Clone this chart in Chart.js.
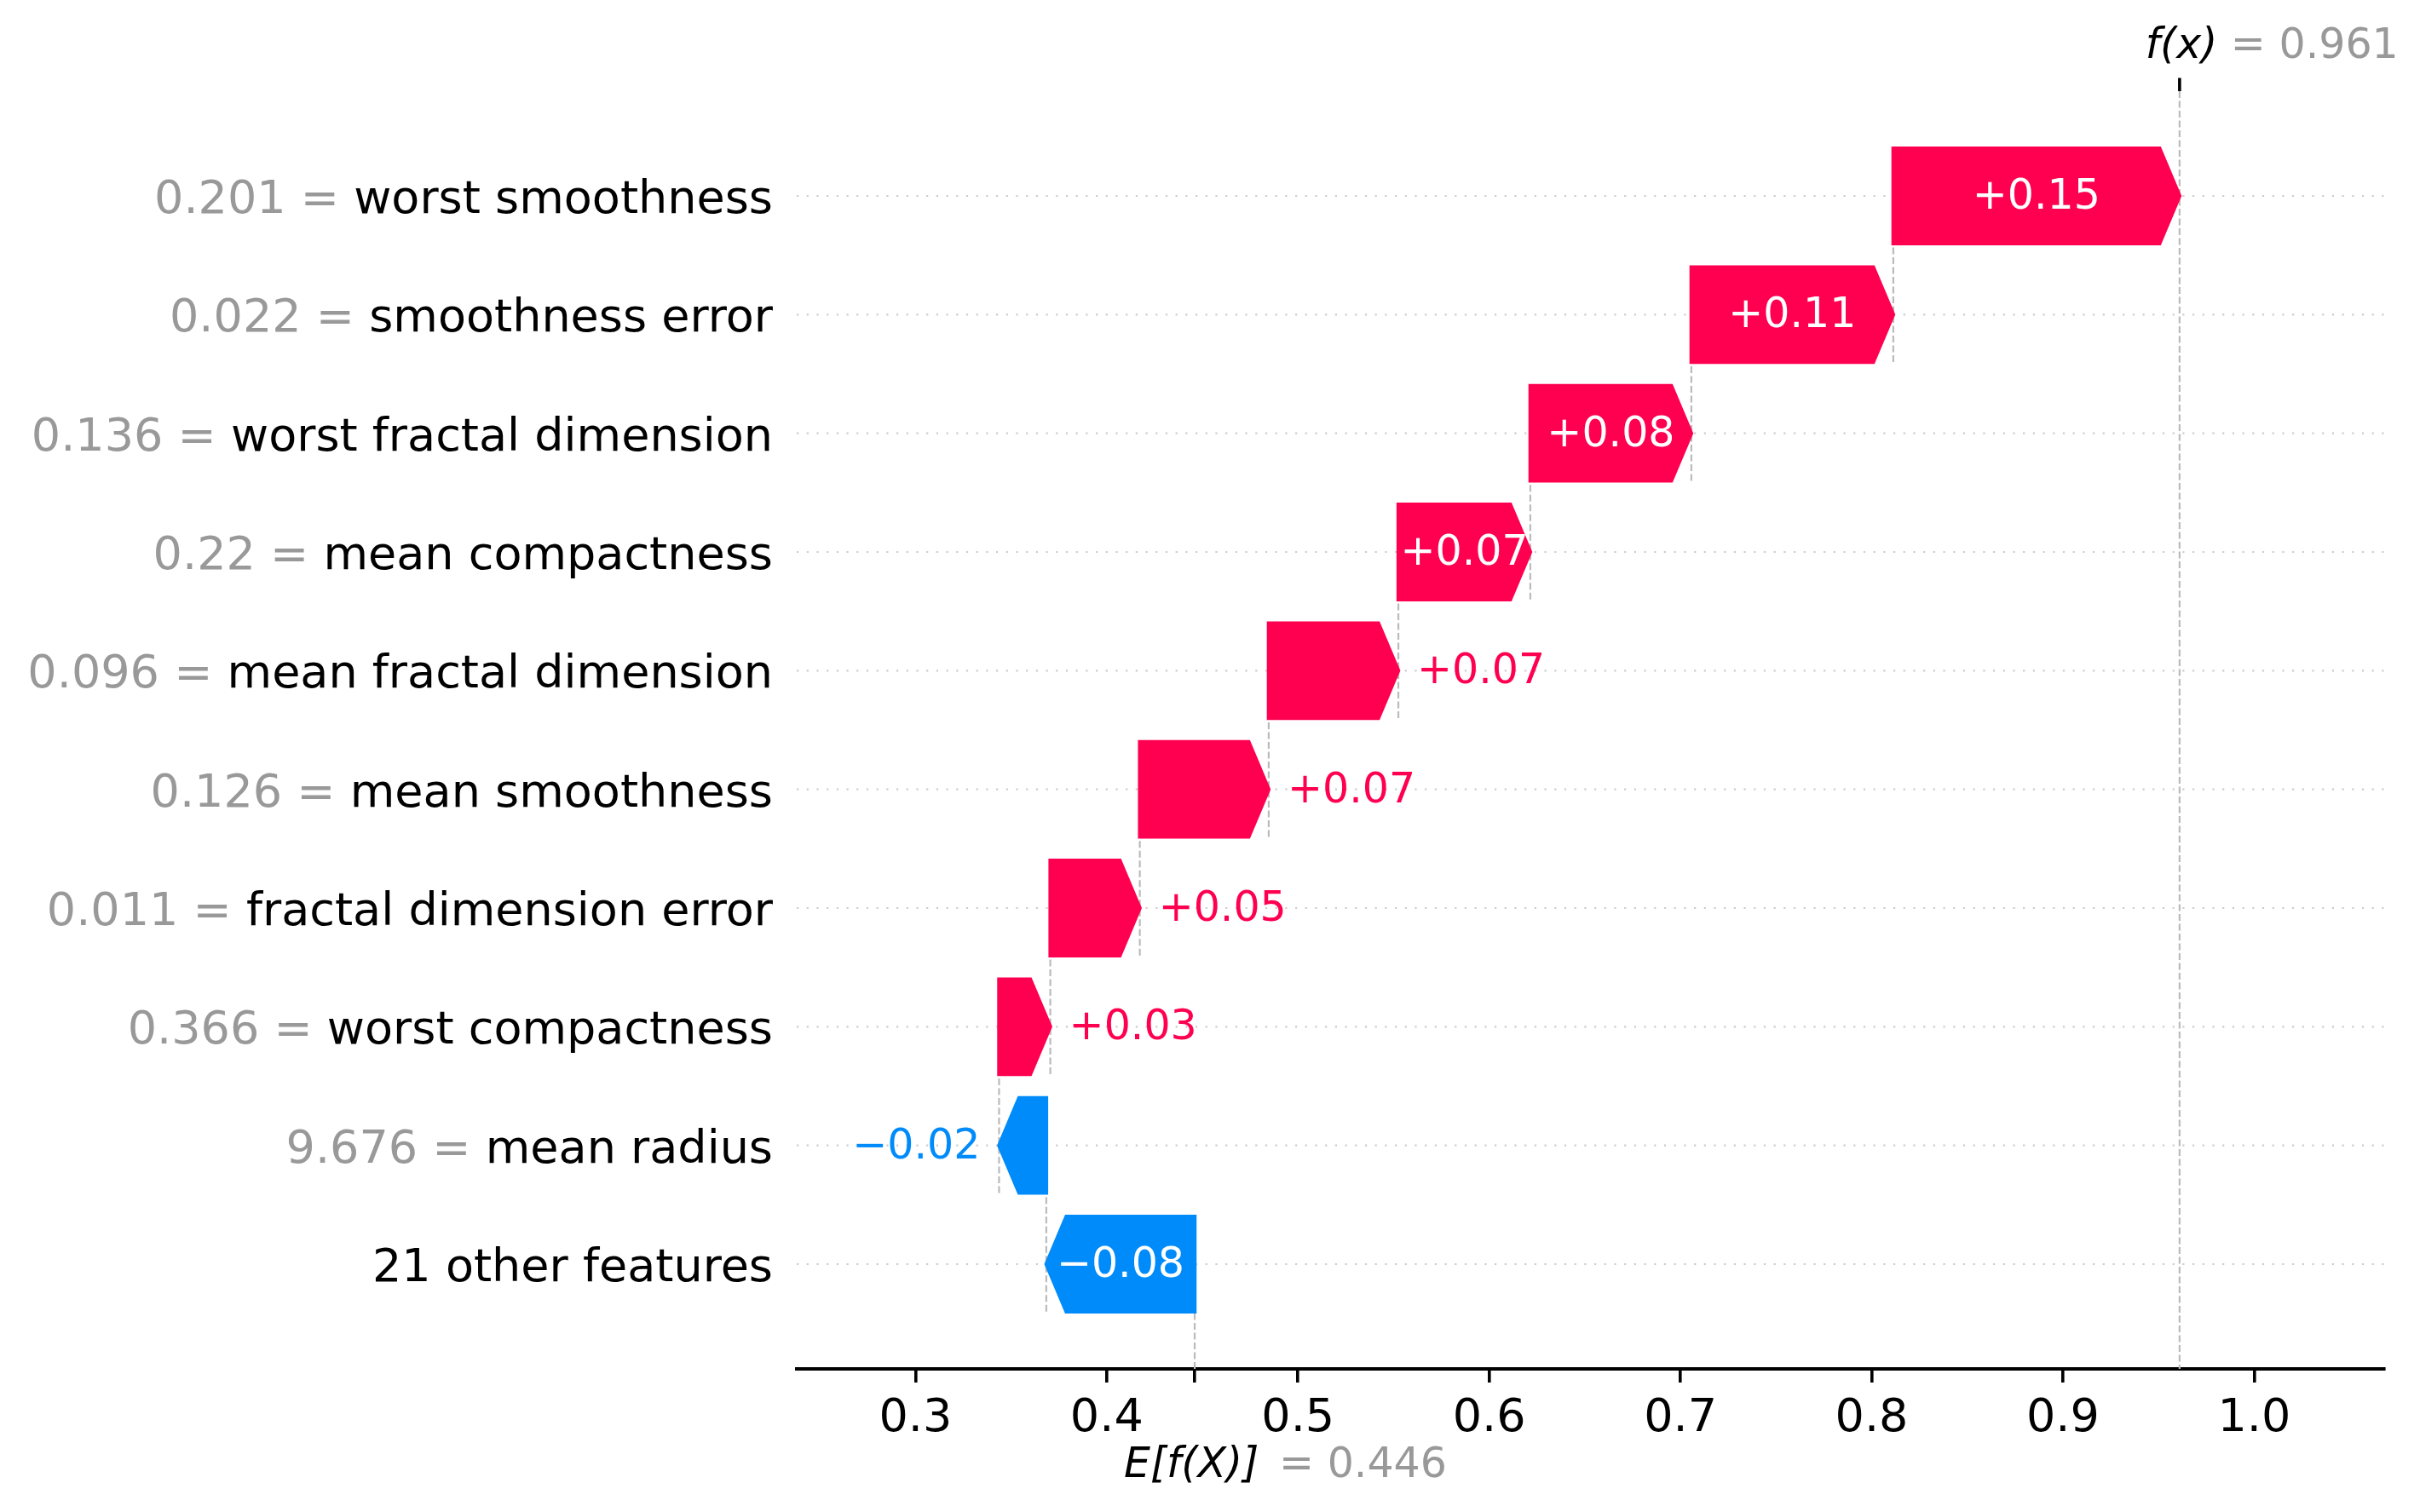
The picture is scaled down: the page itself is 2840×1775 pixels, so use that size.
<!DOCTYPE html>
<html>
<head>
<meta charset="utf-8">
<script src="https://cdn.jsdelivr.net/npm/chart.js@4.4.1/dist/chart.umd.min.js"></script>
<style>
html,body{margin:0;padding:0;background:#ffffff;}
#wrap{width:2840px;height:1775px;}
</style>
</head>
<body>
<div id="wrap"><canvas id="c" width="2840" height="1775"></canvas></div>
<script>
// ---- data (top row first) ----
const featureNames = ["worst smoothness","smoothness error","worst fractal dimension","mean compactness","mean fractal dimension","mean smoothness","fractal dimension error","worst compactness","mean radius","21 other features"];
const featureValues = ["0.201","0.022","0.136","0.22","0.096","0.126","0.011","0.366","9.676",""];
const shapValues = [0.1497,0.1056,0.0842,0.0690,0.0678,0.0674,0.0468,0.0268,-0.0247,-0.0776];
const baseValue = 0.446;
const xTickValues = [0.3,0.4,0.5,0.6,0.7,0.8,0.9,1.0];
const xRange = [0.2379, 1.0680];
const yRange = [-0.8828, 9.8828];
const barWidth = 0.8;

// ---- derived ----
const n = shapValues.length;
const starts = new Array(n), ends = new Array(n);
let acc = baseValue;
for (let i = n - 1; i >= 0; i--) { starts[i] = acc; acc += shapValues[i]; ends[i] = acc; }
const fxValue = acc;

const RED = '#ff0051', BLUE = '#008bfb', GRAY = '#999999';
const FONT = '"DejaVu Sans", sans-serif';

Chart.defaults.font.family = FONT;

const fmtShap = v => (v >= 0 ? '+' : '\u2212') + Math.abs(v).toFixed(2);

const waterfallPlugin = {
  id: 'waterfall',
  beforeDatasetsDraw(chart) {
    const {ctx, chartArea, scales} = chart;
    const xs = scales.x, ys = scales.y;
    ctx.save();
    // dotted row lines
    ctx.strokeStyle = '#cccccc';
    ctx.lineWidth = 2.2;
    ctx.setLineDash([2.2, 9.5]);
    for (let i = 0; i < n; i++) {
      const y = ys.getPixelForValue(i);
      ctx.beginPath(); ctx.moveTo(chartArea.left, y); ctx.lineTo(chartArea.right, y); ctx.stroke();
    }
    // dashed connectors
    ctx.strokeStyle = '#bbbbbb';
    ctx.lineWidth = 2.2;
    ctx.setLineDash([8, 3.5]);
    for (let i = 1; i < n; i++) {
      const x = xs.getPixelForValue(ends[i]);
      ctx.beginPath();
      ctx.moveTo(x, ys.getPixelForValue(i + barWidth / 2));
      ctx.lineTo(x, ys.getPixelForValue(i - 1 + barWidth / 2));
      ctx.stroke();
    }
    // f(x) line full height
    const xf = xs.getPixelForValue(fxValue);
    ctx.beginPath(); ctx.moveTo(xf, chartArea.top); ctx.lineTo(xf, chartArea.bottom); ctx.stroke();
    // E[f(X)] line, bottom 1/n of height
    const xe = xs.getPixelForValue(baseValue);
    ctx.beginPath(); ctx.moveTo(xe, chartArea.bottom); ctx.lineTo(xe, chartArea.bottom - (chartArea.bottom - chartArea.top) / n); ctx.stroke();
    ctx.restore();
  },
  afterDatasetsDraw(chart) {
    const {ctx, chartArea, scales} = chart;
    const xs = scales.x, ys = scales.y;
    const HL = 23.5;
    ctx.save();
    ctx.setLineDash([]);
    for (let i = 0; i < n; i++) {
      const s = xs.getPixelForValue(starts[i]);
      const e = xs.getPixelForValue(ends[i]);
      const yc = ys.getPixelForValue(i);
      const h = Math.abs(ys.getPixelForValue(i + barWidth / 2) - yc);
      const pos = shapValues[i] >= 0;
      const dir = pos ? 1 : -1;
      const hl = Math.min(HL, Math.abs(e - s));
      const col = pos ? RED : BLUE;
      ctx.beginPath();
      ctx.moveTo(s, yc - h);
      ctx.lineTo(e - dir * hl, yc - h);
      ctx.lineTo(e, yc);
      ctx.lineTo(e - dir * hl, yc + h);
      ctx.lineTo(s, yc + h);
      ctx.closePath();
      ctx.fillStyle = col; ctx.fill();
      ctx.strokeStyle = col; ctx.lineWidth = 4.4; ctx.lineJoin = 'miter'; ctx.miterLimit = 10; ctx.stroke();

      // bar label
      const txt = fmtShap(shapValues[i]);
      ctx.font = '49px ' + FONT;
      ctx.textBaseline = 'alphabetic';
      const tw = ctx.measureText(txt).width;
      const barW = Math.abs(e - s);
      if (barW > tw + 3.5) {
        ctx.fillStyle = '#ffffff'; ctx.textAlign = 'center';
        ctx.fillText(txt, (s + e) / 2, yc + 15);
      } else {
        ctx.fillStyle = col;
        ctx.textAlign = pos ? 'left' : 'right';
        ctx.fillText(txt, e + dir * 22, yc + 15);
      }
    }

    // y labels
    ctx.font = '54px ' + FONT;
    ctx.textBaseline = 'alphabetic';
    ctx.textAlign = 'right';
    const xr = chartArea.left - 28;
    for (let i = 0; i < n; i++) {
      const y = ys.getPixelForValue(i) + 20;
      ctx.fillStyle = '#000000';
      ctx.fillText(featureNames[i], xr, y);
      if (featureValues[i]) {
        const w = ctx.measureText(featureNames[i]).width;
        ctx.fillStyle = GRAY;
        ctx.fillText(featureValues[i] + ' = ', xr - w, y);
      }
    }

    // top f(x) tick
    const xf = xs.getPixelForValue(fxValue);
    ctx.strokeStyle = '#000000'; ctx.lineWidth = 3.6;
    ctx.beginPath(); ctx.moveTo(xf, chartArea.top); ctx.lineTo(xf, chartArea.top - 15.5); ctx.stroke();

    // f(x) label
    ctx.textAlign = 'left';
    ctx.font = 'italic 49px ' + FONT;
    ctx.fillStyle = '#000000';
    ctx.fillText('f(x)', xf - 40, 68);
    ctx.font = '49px ' + FONT;
    ctx.fillStyle = GRAY;
    ctx.fillText('= ' + fxValue.toFixed(3), xf + 60, 68);

    // E[f(X)] label
    const xe = xs.getPixelForValue(baseValue);
    ctx.font = 'italic 49px ' + FONT;
    ctx.fillStyle = '#000000';
    ctx.fillText('E[f(X)]', xe - 83, 1734);
    ctx.font = '49px ' + FONT;
    ctx.fillStyle = GRAY;
    ctx.fillText('= ' + baseValue.toFixed(3), xe + 99, 1734);
    ctx.restore();
  }
};

new Chart(document.getElementById('c'), {
  type: 'bar',
  data: {
    datasets: [{
      data: shapValues.map((v, i) => ({x: [starts[i], ends[i]], y: i})),
      backgroundColor: 'rgba(0,0,0,0)',
      borderWidth: 0,
      barPercentage: barWidth,
      categoryPercentage: 1.0
    }]
  },
  options: {
    indexAxis: 'y',
    responsive: false,
    animation: false,
    events: [],
    layout: {padding: {left: 935, right: 42, top: 107, bottom: 0}},
    plugins: {legend: {display: false}, tooltip: {enabled: false}},
    scales: {
      x: {
        type: 'linear',
        position: 'bottom',
        min: xRange[0], max: xRange[1],
        afterFit: s => { s.height = 168; },
        afterBuildTicks: s => { s.ticks = xTickValues.concat([baseValue]).sort((a, b) => a - b).map(v => ({value: v})); },
        ticks: {
          autoSkip: false, maxRotation: 0, minRotation: 0,
          padding: 11,
          color: '#000000',
          font: {size: 54, family: FONT},
          callback: v => Math.abs(v - baseValue) < 1e-9 ? '' : Number(v).toFixed(1)
        },
        grid: {drawOnChartArea: false, drawTicks: true, tickLength: 16, tickColor: '#000000', tickWidth: 3.6, lineWidth: 3.6, color: '#000000'},
        border: {display: true, color: '#000000', width: 4}
      },
      y: {
        type: 'linear',
        display: false,
        reverse: true,
        offset: false,
        min: yRange[0], max: yRange[1]
      }
    }
  },
  plugins: [waterfallPlugin]
});
</script>
</body>
</html>
